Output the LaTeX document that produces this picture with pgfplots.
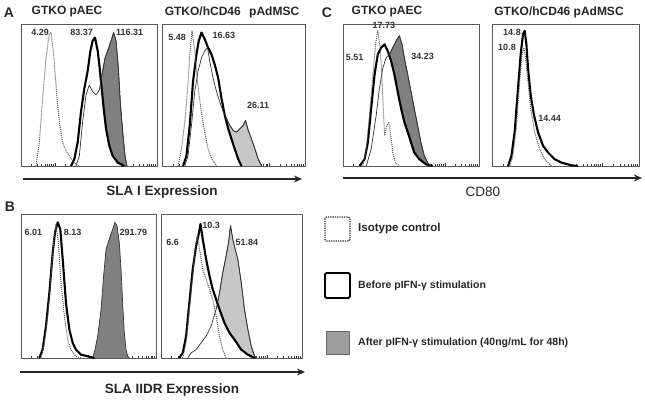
\documentclass[border=0pt]{standalone}
\usepackage{pgfplots}
\pgfplotsset{compat=1.18}
\usepackage{fontspec}
\setmainfont{Liberation Sans}
\usetikzlibrary{arrows.meta}
\pgfplotsset{
  panel/.style={scale only axis, anchor=north west,
    xmin=0,xmax=100,ymin=0,ymax=100, clip=false,
    axis line style={black!65, line width=0.7pt},
    ytick=\empty, xtick={0,25,50,75,100}, xticklabels={},
    minor xtick={7.53,11.93,15.05,17.47,19.46,21.13,22.58,23.86,
      32.53,36.93,40.05,42.47,44.46,46.13,47.58,48.86,
      57.53,61.93,65.05,67.47,69.46,71.13,72.58,73.86,
      82.53,86.93,90.05,92.47,94.46,96.13,97.58,98.86},
    tick align=inside, xtick pos=bottom, major tick length=3pt, minor tick length=1.8pt,
    tick style={black!80, line width=0.5pt}},
  iso/.style={black!65, densely dotted, line width=1.0pt, line join=round},
  bef/.style={black, line width=2.1pt, fill=white, line join=round},
  aftD/.style={draw=black!80, line width=0.7pt, fill=black!50, line join=round},
  aftL/.style={draw=black!80, line width=0.7pt, fill=black!22, line join=round},
  aftO/.style={draw=black!80, line width=0.7pt, line join=round},
}
\tikzset{lab/.style={font=\bfseries\fontsize{9}{10}\selectfont, text=black!80, inner sep=0pt},
  ttl/.style={font=\bfseries\fontsize{12}{14}\selectfont, text=black!85, inner sep=0pt},
  xl/.style={font=\bfseries\fontsize{13.5}{15}\selectfont, text=black!85, inner sep=0pt},
  leg/.style={font=\bfseries\fontsize{10.5}{12}\selectfont, text=black!85, inner sep=0pt, anchor=west}}
\begin{document}
\begin{tikzpicture}[x=1pt,y=1pt]
\useasboundingbox (0,0) rectangle (645,404);
% ---------------- A left
\begin{axis}[panel, at={(21pt,380pt)}, width=136pt, height=142pt]
\addplot[aftD] coordinates {(40.4,0)(42.9,7.1)(45.3,31)(47.8,50)(50.2,57.1)(52.7,52.4)(55.1,50)(57.6,53.6)(60.0,66.7)(61.8,76.2)(63.7,81)(66.2,88.1)(68.1,94)(69.9,88.1)(71.6,69)(73.0,45.2)(74.8,23.8)(76.5,7.1)(77.9,0)};
\addplot[bef] coordinates {(36.8,0)(39.2,4.8)(41.7,16.7)(44.1,38.1)(46.6,54.8)(49.0,66.7)(51.0,81)(52.7,88.1)(54.4,90.5)(56.4,81)(57.6,71.4)(58.8,59.5)(60.8,40.5)(62.5,26.2)(64.9,14.3)(67.4,7.1)(71.1,2.4)(76.0,0)};
\addplot[aftO] coordinates {(40.4,0)(42.9,7.1)(45.3,31)(47.8,50)(50.2,57.1)(52.7,52.4)(55.1,50)(57.6,53.6)(60.0,66.7)(61.8,76.2)(63.7,81)(66.2,88.1)(68.1,94)(69.9,88.1)(71.6,69)(73.0,45.2)(74.8,23.8)(76.5,7.1)(77.9,0)};
\addplot[iso] coordinates {(11.0,0)(13.5,16.7)(15.9,47.6)(18.4,76.2)(20.8,92.9)(22.1,94)(24.0,78.6)(26.5,47.6)(28.2,31)(30.6,16.7)(33.1,10.7)(35.5,7.1)(38.0,3.6)(40.4,1.2)(42.9,0)};
\node[lab] at (axis cs:14,94) {4.29};
\node[lab] at (axis cs:44.6,94) {83.37};
\node[lab] at (axis cs:79.9,94) {116.31};
\end{axis}
% ---------------- A right
\begin{axis}[panel, at={(162pt,380pt)}, width=143pt, height=142pt]
\addplot[aftL] coordinates {(15.9,0)(18.2,7.1)(20.6,28.6)(22.9,52.4)(25.2,66.7)(27.6,76.2)(29.9,81)(31.8,83.3)(33.4,73.8)(35.7,61.9)(38.1,52.4)(40.4,45.2)(42.8,38.1)(45.1,33.3)(47.4,28.6)(49.8,25)(52.1,23.8)(54.4,26.2)(56.8,28.6)(58.4,32.1)(60.3,25)(62.6,19)(65.0,11.9)(67.3,4.8)(69.6,0)};
\addplot[bef] coordinates {(14.7,0)(17.1,7.1)(19.4,28.6)(21.7,59.5)(24.1,78.6)(25.7,88.1)(27.6,94)(29.9,89.3)(32.2,83.3)(34.6,78.6)(36.9,71.4)(39.3,61.9)(41.6,47.6)(43.9,35.7)(46.3,26.2)(48.6,19)(50.9,11.9)(53.3,4.8)(55.6,0)};
\addplot[aftO] coordinates {(15.9,0)(18.2,7.1)(20.6,28.6)(22.9,52.4)(25.2,66.7)(27.6,76.2)(29.9,81)(31.8,83.3)(33.4,73.8)(35.7,61.9)(38.1,52.4)(40.4,45.2)(42.8,38.1)(45.1,33.3)(47.4,28.6)(49.8,25)(52.1,23.8)(54.4,26.2)(56.8,28.6)(58.4,32.1)(60.3,25)(62.6,19)(65.0,11.9)(67.3,4.8)(69.6,0)};
\addplot[iso] coordinates {(11.2,0)(13.6,11.9)(15.9,31)(17.8,52.4)(19.4,78.6)(21.0,95.2)(22.9,81)(24.8,59.5)(27.1,40.5)(29.9,23.8)(32.2,11.9)(35.0,4.8)(38.1,0)};
\node[lab] at (axis cs:10.5,90.5) {5.48};
\node[lab] at (axis cs:43.2,91.7) {16.63};
\node[lab] at (axis cs:67.3,42.9) {26.11};
\end{axis}
% ---------------- C left
\begin{axis}[panel, at={(343pt,380pt)}, width=136pt, height=142pt]
\addplot[aftD] coordinates {(17.1,0)(20.7,11.9)(24.4,35.7)(26.8,54.8)(29.3,69)(31.7,76.2)(34.1,78.6)(36.6,83.3)(39,88.1)(41.5,91.7)(43.4,85.7)(45.1,76.2)(47.6,64.3)(50,52.4)(52.4,40.5)(54.9,28.6)(57.3,16.7)(59.8,7.1)(62.2,2.4)(64.6,0)};
\addplot[bef] coordinates {(12.2,0)(15.9,4.8)(18.3,16.7)(20.7,40.5)(23.2,64.3)(25.6,78.6)(28.0,83.3)(30.5,85.7)(32.9,81)(35.4,73.8)(37.8,64.3)(40.2,52.4)(42.7,40.5)(45.1,31)(47.6,23.8)(50,16.7)(52.4,9.5)(56.1,4.8)(61,1.2)(65.9,0)};
\addplot[aftO] coordinates {(17.1,0)(20.7,11.9)(24.4,35.7)(26.8,54.8)(29.3,69)(31.7,76.2)(34.1,78.6)(36.6,83.3)(39,88.1)(41.5,91.7)(43.4,85.7)(45.1,76.2)(47.6,64.3)(50,52.4)(52.4,40.5)(54.9,28.6)(57.3,16.7)(59.8,7.1)(62.2,2.4)(64.6,0)};
\addplot[iso] coordinates {(14.6,0)(17.1,11.9)(19.5,35.7)(22.0,64.3)(23.9,85.7)(25.6,95.2)(27.3,83.3)(28.8,59.5)(29.8,35.7)(30.7,21.4)(32.2,28.6)(33.7,31)(35.1,21.4)(36.6,9.5)(38.5,2.4)(41.5,0)};
\node[lab] at (axis cs:8.5,76.2) {5.51};
\node[lab] at (axis cs:30,99) {17.73};
\node[lab] at (axis cs:58.5,77.4) {34.23};
\end{axis}
% ---------------- C right
\begin{axis}[panel, at={(492pt,380pt)}, width=147pt, height=142pt]
\addplot[aftL] coordinates {(11.5,0)(13.6,7.1)(15.9,26.2)(18.1,57.1)(20.0,81)(21.5,90.5)(22.7,88.1)(24.0,71.4)(25.9,52.4)(27.9,35.7)(30.8,23.8)(33.6,16.7)(37.0,9.5)(41.5,4.8)(46.0,2.4)(51.7,1)(57.4,0)};
\addplot[bef] coordinates {(10.9,0)(13.2,7.1)(15.4,23.8)(17.7,54.8)(19.5,78.6)(21.1,92.9)(22.2,95.2)(23.4,85.7)(24.5,69)(26.3,50)(28.6,35.7)(31.3,23.8)(34.7,14.3)(38.1,9.5)(42.6,4.8)(47.2,2.4)(54.0,0.5)(58.5,0)};
\addplot[iso] coordinates {(12.0,0)(14.3,7.1)(16.6,28.6)(18.8,59.5)(20.4,78.6)(21.8,83.3)(23.1,73.8)(24.5,59.5)(26.3,40.5)(29.0,23.8)(32.4,11.9)(35.8,4.8)(40.4,0)};
\node[lab] at (axis cs:13.6,94) {14.8};
\node[lab] at (axis cs:10.2,83.3) {10.8};
\node[lab] at (axis cs:39.2,33.3) {14.44};
\end{axis}
% ---------------- B left
\begin{axis}[panel, at={(21pt,190pt)}, width=135pt, height=144pt]
\addplot[aftD] coordinates {(53.1,0)(54.8,5.8)(56.8,15.1)(59.3,33.7)(61.2,57)(63,75.6)(65.4,82.6)(67.9,89.5)(69.6,94.2)(71.1,91.9)(72.8,80.2)(74.1,61.6)(75.3,38.4)(76.5,17.4)(77.8,5.8)(79,1.2)(80.2,0)};
\addplot[bef] coordinates {(13.6,0)(16,5.8)(18.5,22.1)(21,45.3)(23.5,73.3)(25.2,87.2)(27.2,94.2)(29.1,89.5)(30.9,68.6)(33.3,38.4)(35.8,19.8)(38.3,10.5)(40.7,5.8)(44.4,2.3)(49.4,1.2)(54.3,0)};
\addplot[iso] coordinates {(14.8,0)(17.3,10.5)(19.8,29.1)(22.2,57)(24.2,80.2)(25.9,93)(27.7,80.2)(29.6,52.3)(32.1,29.1)(34.6,12.8)(37,5.8)(40.7,1.2)(44.4,0)};
\node[lab] at (axis cs:9.1,87.2) {6.01};
\node[lab] at (axis cs:38.3,87.2) {8.13};
\node[lab] at (axis cs:83.2,87.2) {291.79};
\end{axis}
% ---------------- B right
\begin{axis}[panel, at={(161pt,190pt)}, width=141pt, height=144pt]
\addplot[aftL] coordinates {(19,0)(21.3,3.5)(24.9,5.8)(28.4,10.5)(32,15.1)(35.5,22.1)(39.1,33.7)(41.5,45.3)(43.8,59.3)(46.2,70.9)(47.9,80.2)(49.3,91.9)(50.9,82.6)(52.6,75.6)(54.5,68.6)(56.9,52.3)(59.2,33.7)(61.6,19.8)(64,8.1)(66.4,1.2)(67.5,0)};
\addplot[bef] coordinates {(13,0)(15.4,3.5)(17.8,15.1)(20.1,38.4)(22.5,61.6)(24.9,77.9)(26.5,84.9)(28,93)(29.6,82.6)(32,68.6)(34.4,57)(36.7,47.7)(39.1,40.7)(41.5,33.7)(45,24.4)(48.6,17.4)(52.1,12.8)(56.9,5.8)(61.6,2.3)(66.4,0)};
\addplot[aftO] coordinates {(19,0)(21.3,3.5)(24.9,5.8)(28.4,10.5)(32,15.1)(35.5,22.1)(39.1,33.7)(41.5,45.3)(43.8,59.3)(46.2,70.9)(47.9,80.2)(49.3,91.9)(50.9,82.6)(52.6,75.6)(54.5,68.6)(56.9,52.3)(59.2,33.7)(61.6,19.8)(64,8.1)(66.4,1.2)(67.5,0)};
\addplot[iso] coordinates {(15.4,0)(17.8,10.5)(20.1,33.7)(22.5,57)(24.2,75.6)(25.6,84.9)(27.3,75.6)(29.6,61.6)(32,54.7)(34.4,47.7)(36.7,40.7)(39.1,29.1)(41.5,15.1)(43.8,5.8)(46.2,0)};
\node[lab] at (axis cs:8.3,80.2) {6.6};
\node[lab] at (axis cs:35.5,91.9) {10.3};
\node[lab] at (axis cs:60.9,80.2) {51.84};
\end{axis}
% ---------------- titles and axes arrows
\node[ttl, font=\bfseries\fontsize{14}{16}\selectfont] at (9,391) {A};
\node[ttl] at (67,392) {GTKO pAEC};
\node[ttl] at (232,392) {GTKO/hCD46\hspace{0.7em}pAdMSC};
\node[ttl, font=\bfseries\fontsize{14}{16}\selectfont] at (327,391) {C};
\node[ttl] at (387,392) {GTKO pAEC};
\node[ttl] at (559,392) {GTKO/hCD46 pAdMSC};
\node[ttl, font=\bfseries\fontsize{14}{16}\selectfont] at (10,197) {B};
\draw[line width=1.8pt, black!85, -{Stealth[length=8pt,width=7pt]}] (23,225) -- (302,225);
\draw[line width=1.8pt, black!85, -{Stealth[length=8pt,width=7pt]}] (343,226) -- (642,226);
\draw[line width=1.8pt, black!85, -{Stealth[length=8pt,width=7pt]}] (20,32) -- (305,32);
\node[xl] at (162,212) {SLA I Expression};
\node[xl, font=\fontsize{13.5}{15}\selectfont] at (483,212) {CD80};
\node[xl] at (172,14) {SLA IIDR Expression};
% ---------------- legend
\draw[black!80, densely dotted, line width=1.3pt, rounded corners=1.5pt] (325,187) rectangle (350,163);
\node[leg, font=\bfseries\fontsize{11.5}{13}\selectfont] at (358,175) {Isotype control};
\draw[black, line width=1.9pt, rounded corners=1.5pt] (325,131) rectangle (350,106);
\node[leg] at (358,118) {Before pIFN-γ stimulation};
\draw[black!60, fill=black!38, line width=0.6pt] (326,73) rectangle (349,50);
\node[leg] at (358,61) {After pIFN-γ stimulation (40ng/mL for 48h)};
\end{tikzpicture}
\end{document}
